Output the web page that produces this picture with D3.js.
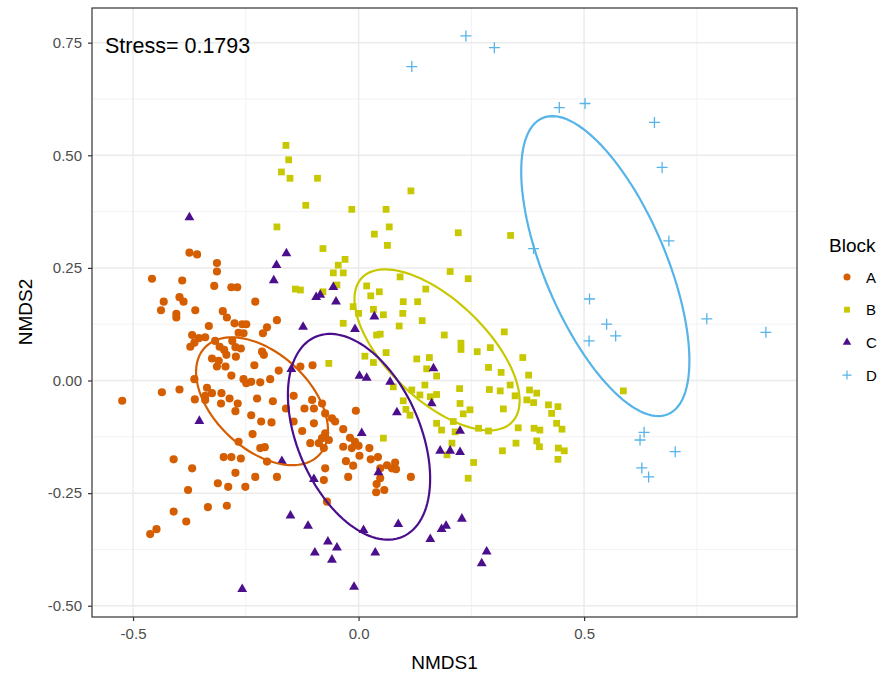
<!DOCTYPE html>
<html><head><meta charset="utf-8">
<script src="https://cdn.jsdelivr.net/npm/d3@7"></script>
<style>body{margin:0;background:#fff}svg{display:block;font-family:"Liberation Sans",Arial,sans-serif}</style>
</head><body><svg id="c" width="885" height="677"></svg>
<script>
const blocks = ["A","B","C","D"];
const colors = ["#D55E00","#C8C800","#4B0E8C","#56B4E9"];
const xTicks = [-0.5, 0, 0.5];
const xTickLabels = ["-0.5","0.0","0.5"];
const yTicks = [-0.5, -0.25, 0, 0.25, 0.5, 0.75];
const yTickLabels = ["-0.50","-0.25","0.00","0.25","0.50","0.75"];
const xMinor = [-0.25, 0.25, 0.75];
const yMinor = [-0.375, -0.125, 0.125, 0.375, 0.625];
const stressLabel = "Stress= 0.1793";

const blockA = [[-0.375,0.284],[-0.358,0.280],[-0.314,0.261],[-0.314,0.242],[-0.458,0.226],[-0.391,0.222],[-0.320,0.210],[-0.282,0.207],[-0.269,0.207],[-0.432,0.175],[-0.397,0.185],[-0.388,0.175],[-0.438,0.156],[-0.362,0.156],[-0.404,0.148],[-0.404,0.140],[-0.301,0.154],[-0.292,0.140],[-0.229,0.175],[-0.181,0.134],[-0.275,0.127],[-0.258,0.125],[-0.249,0.125],[-0.203,0.118],[-0.212,0.105],[-0.332,0.121],[-0.369,0.101],[-0.354,0.094],[-0.340,0.096],[-0.373,0.075],[-0.364,0.084],[-0.318,0.088],[-0.308,0.075],[-0.298,0.068],[-0.280,0.088],[-0.266,0.106],[-0.255,0.105],[-0.273,0.074],[-0.261,0.071],[-0.325,0.049],[-0.310,0.044],[-0.314,0.031],[-0.293,0.057],[-0.295,0.031],[-0.272,0.053],[-0.214,0.064],[-0.210,0.057],[-0.231,0.034],[-0.177,0.022],[-0.129,0.031],[-0.102,0.034],[-0.282,0.011],[-0.255,0.003],[-0.249,-0.006],[-0.238,-0.003],[-0.218,-0.004],[-0.196,0.003],[-0.364,0.003],[-0.436,-0.026],[-0.397,-0.020],[-0.336,-0.016],[-0.325,-0.028],[-0.340,-0.034],[-0.304,-0.028],[-0.363,-0.042],[-0.340,-0.043],[-0.286,-0.040],[-0.268,-0.051],[-0.273,-0.068],[-0.305,-0.051],[-0.225,-0.040],[-0.190,-0.046],[-0.161,-0.062],[-0.144,-0.034],[-0.120,-0.062],[-0.103,-0.043],[-0.099,-0.062],[-0.081,-0.051],[-0.074,-0.073],[-0.524,-0.045],[-0.238,-0.077],[-0.006,-0.067],[-0.059,-0.084],
[-0.410,-0.175],[-0.369,-0.195],[-0.378,-0.243],[-0.410,-0.291],[-0.382,-0.313],[-0.448,-0.330],[-0.462,-0.341],[-0.334,-0.281],[-0.292,-0.278],[-0.312,-0.228],[-0.289,-0.236],[-0.251,-0.236],[-0.273,-0.205],[-0.229,-0.214],[-0.181,-0.214],[-0.299,-0.170],[-0.282,-0.170],[-0.261,-0.173],[-0.235,-0.119],[-0.218,-0.150],[-0.208,-0.148],[-0.203,-0.180],[-0.216,-0.091],[-0.193,-0.093],[-0.266,-0.136],[-0.144,-0.091],[-0.125,-0.112],[-0.107,-0.139],[-0.099,-0.095],[-0.074,-0.117],[-0.081,-0.128],[-0.088,-0.139],[-0.074,-0.195],[-0.077,-0.221],[-0.070,-0.269],[-0.066,-0.132],[-0.077,-0.150],
[-0.034,-0.108],[-0.019,-0.127],[-0.008,-0.136],[-0.015,-0.150],[0.000,-0.145],[-0.034,-0.147],[0.024,-0.150],[0.002,-0.167],[-0.028,-0.179],[-0.012,-0.189],[0.027,-0.175],[0.043,-0.170],[0.048,-0.195],[0.063,-0.188],[0.074,-0.195],[0.081,-0.182],[0.083,-0.197],[-0.023,-0.214],[0.048,-0.217],[0.040,-0.230],[0.039,-0.248],[0.057,-0.243],[0.116,-0.214],[-0.052,-0.091]];

const blockB = [[-0.161,0.522],[-0.155,0.490],[-0.171,0.463],[-0.152,0.449],[-0.091,0.449],[-0.117,0.389],[0.116,0.421],[-0.015,0.380],[0.061,0.380],[-0.181,0.341],[-0.079,0.293],[-0.140,0.203],[-0.129,0.201],[-0.079,0.197],[-0.066,0.038],
[0.068,0.341],[0.035,0.325],[0.064,0.300],[0.221,0.328],[0.337,0.322],[-0.030,0.269],[-0.045,0.256],[-0.056,0.239],[-0.034,0.239],[-0.048,0.212],[0.203,0.242],[0.243,0.226],[0.092,0.230],[0.018,0.210],[0.046,0.197],[0.027,0.188],[0.149,0.203],[0.099,0.175],[0.131,0.175],[-0.012,0.164],[0.033,0.158],[0.055,0.146],[0.000,0.149],[0.098,0.149],[-0.034,0.127],[0.090,0.121],[0.141,0.133],[0.040,0.101],[0.048,0.103],[0.190,0.101],[0.323,0.108],[0.227,0.083],[0.227,0.069],[0.263,0.064],[0.292,0.073],[0.061,0.062],[0.014,0.054],[0.033,0.040],[0.129,0.048],[0.157,0.051],[0.151,0.026],[0.173,0.010],[0.288,0.029],[0.316,0.018],[0.364,0.051],[0.377,0.012],[0.077,-0.014],[0.147,-0.010],[0.173,-0.031],[0.224,-0.018],[0.290,-0.020],[0.314,-0.023],[0.336,-0.010],[0.347,-0.034],[0.379,-0.021],[0.395,-0.028],[0.373,-0.043],[0.388,-0.049],[0.118,-0.021],[0.136,-0.032],[0.159,-0.036],[0.099,-0.045],[0.225,-0.051],[0.105,-0.064],[0.321,-0.063],[0.421,-0.054],[0.442,-0.058],[0.428,-0.073],[0.247,-0.065],[0.232,-0.074],[0.114,-0.077],
[0.055,-0.128],[0.173,-0.095],[0.184,-0.110],[0.210,-0.091],[0.214,-0.114],[0.207,-0.139],[0.196,-0.165],[0.266,-0.106],[0.288,-0.112],[0.255,-0.182],[0.243,-0.217],[0.319,-0.156],[0.349,-0.139],[0.354,-0.105],[0.389,-0.106],[0.402,-0.110],[0.395,-0.134],[0.401,-0.147],[0.439,-0.095],[0.451,-0.108],[0.443,-0.150],[0.456,-0.156],[0.442,-0.175],[0.587,-0.023]];

const blockC = [[-0.375,0.362],[-0.160,0.282],[-0.182,0.256],[-0.188,0.222],[-0.094,0.185],[-0.085,0.190],[-0.123,0.119],[-0.149,0.025],[-0.056,0.207],[-0.050,0.175],[0.035,0.142],[-0.008,0.114],[0.002,0.010],[0.018,0.006],[0.070,-0.003],[0.166,0.027],[0.085,-0.071],[0.162,-0.051],[-0.353,-0.090],[-0.170,-0.179],[-0.099,-0.219],[-0.151,-0.300],[-0.112,-0.323],[-0.068,-0.358],[-0.097,-0.382],[-0.059,-0.398],[-0.258,-0.463],[0.007,-0.117],[0.225,-0.112],[0.181,-0.156],[0.203,-0.156],[0.225,-0.159],[0.044,-0.204],[0.088,-0.319],[0.011,-0.332],[-0.048,-0.371],[0.037,-0.382],[-0.010,-0.458],[0.159,-0.352],[0.184,-0.330],[0.194,-0.323],[0.229,-0.307],[0.284,-0.380],[0.273,-0.406]];

const blockD = [[0.238,0.765],[0.301,0.739],[0.118,0.697],[0.445,0.606],[0.502,0.615],[0.656,0.573],[0.673,0.473],[0.688,0.310],[0.512,0.181],[0.550,0.125],[0.570,0.099],[0.511,0.088],[0.772,0.137],[0.903,0.107],[0.388,0.293],[0.633,-0.115],[0.624,-0.132],[0.702,-0.158],[0.628,-0.194],[0.643,-0.214]];

// ellipse parameters per block (data units): centre, semi-axes, rotation (deg)
const ellCx = [-0.214, 0.174, 0.001, 0.547];
const ellCy = [-0.046, 0.068, -0.125, 0.254];
const ellA  = [0.174, 0.231, 0.242, 0.357];
const ellB  = [0.106, 0.110, 0.136, 0.135];
const ellAngle = [-43.1, -43.9, -66.5, -67.1];

const svg = d3.select("#c");
const L=92, R=797, T=8, B=617;
const x = d3.scaleLinear().domain([-0.591, 0.972]).range([L, R]);
const y = d3.scaleLinear().domain([-0.525, 0.827]).range([B, T]);

svg.append("rect").attr("width",885).attr("height",677).attr("fill","#fff");

const grid = svg.append("g");
grid.selectAll(".mx").data(xMinor).join("line").attr("x1",d=>x(d)).attr("x2",d=>x(d)).attr("y1",T).attr("y2",B).attr("stroke","#F2F2F2").attr("stroke-width",1);
grid.selectAll(".my").data(yMinor).join("line").attr("y1",d=>y(d)).attr("y2",d=>y(d)).attr("x1",L).attr("x2",R).attr("stroke","#F2F2F2").attr("stroke-width",1);
grid.selectAll(".Mx").data(xTicks).join("line").attr("x1",d=>x(d)).attr("x2",d=>x(d)).attr("y1",T).attr("y2",B).attr("stroke","#EBEBEB").attr("stroke-width",1.5);
grid.selectAll(".My").data(yTicks).join("line").attr("y1",d=>y(d)).attr("y2",d=>y(d)).attr("x1",L).attr("x2",R).attr("stroke","#EBEBEB").attr("stroke-width",1.5);

const groups = [blockA, blockB, blockC, blockD];
const symTypes = [d3.symbolCircle, d3.symbolSquare, d3.symbolTriangle, null];
const symSizes = [52, 46, 42, 0];
function plusPath(s){return `M${-s},0H${s}M0,${-s}V${s}`;}

groups.forEach((g,i)=>{
  const layer = svg.append("g");
  if(symTypes[i]){
    layer.selectAll("path").data(g).join("path")
      .attr("transform",d=>`translate(${x(d[0])},${y(d[1])})`)
      .attr("d", d3.symbol().type(symTypes[i]).size(symSizes[i])())
      .attr("fill", colors[i]);
  } else {
    layer.selectAll("path").data(g).join("path")
      .attr("transform",d=>`translate(${x(d[0])},${y(d[1])})`)
      .attr("d", plusPath(5.5))
      .attr("fill","none").attr("stroke", colors[i]).attr("stroke-width",1.3);
  }
});

// ellipses
blocks.forEach((b,i)=>{
  const phi = ellAngle[i]*Math.PI/180;
  const pts = d3.range(0, 361, 3).map(deg=>{
    const t = deg*Math.PI/180;
    const dx = ellA[i]*Math.cos(t)*Math.cos(phi) - ellB[i]*Math.sin(t)*Math.sin(phi);
    const dy = ellA[i]*Math.cos(t)*Math.sin(phi) + ellB[i]*Math.sin(t)*Math.cos(phi);
    return [ellCx[i]+dx, ellCy[i]+dy];
  });
  svg.append("path").datum(pts)
    .attr("d", d3.line().x(d=>x(d[0])).y(d=>y(d[1])))
    .attr("fill","none").attr("stroke",colors[i]).attr("stroke-width",2.2);
});

// panel border
svg.append("rect").attr("x",L).attr("y",T).attr("width",R-L).attr("height",B-T).attr("fill","none").attr("stroke","#333").attr("stroke-width",1.2);

// axes
const xa = svg.append("g").attr("transform",`translate(0,${B})`)
  .call(d3.axisBottom(x).tickValues(xTicks).tickSize(4).tickPadding(7).tickFormat((d,i)=>xTickLabels[i]));
const ya = svg.append("g").attr("transform",`translate(${L},0)`)
  .call(d3.axisLeft(y).tickValues(yTicks).tickSize(4).tickPadding(6).tickFormat((d,i)=>yTickLabels[i]));
[xa,ya].forEach(a=>{
  a.select(".domain").remove();
  a.selectAll("line").attr("stroke","#333").attr("stroke-width",1.2);
  a.selectAll("text").attr("fill","#4D4D4D").style("font-size","15px").style("font-family","'Liberation Sans',Arial,sans-serif");
});

svg.append("text").attr("x",(L+R)/2).attr("y",669).attr("text-anchor","middle")
  .style("font-size","19px").attr("fill","#000").text("NMDS1");
svg.append("text").attr("transform","translate(32,312) rotate(-90)").attr("text-anchor","middle")
  .style("font-size","19px").attr("fill","#000").text("NMDS2");

svg.append("text").attr("x",105).attr("y",53).style("font-size","21.5px").attr("fill","#000").text(stressLabel);

// legend
const lg = svg.append("g");
lg.append("text").attr("x",829).attr("y",252).style("font-size","19px").attr("fill","#000").text("Block");
blocks.forEach((b,i)=>{
  const cy = 277 + i*32.7;
  if(symTypes[i]){
    lg.append("path").attr("transform",`translate(847,${cy})`)
      .attr("d", d3.symbol().type(symTypes[i]).size(symSizes[i]*0.75)()).attr("fill",colors[i]);
  } else {
    lg.append("path").attr("transform",`translate(847,${cy})`).attr("d",plusPath(4.5))
      .attr("fill","none").attr("stroke",colors[i]).attr("stroke-width",1.2);
  }
  lg.append("text").attr("x",866).attr("y",cy+5.5).style("font-size","15px").attr("fill","#000").text(b);
});
</script></body></html>
